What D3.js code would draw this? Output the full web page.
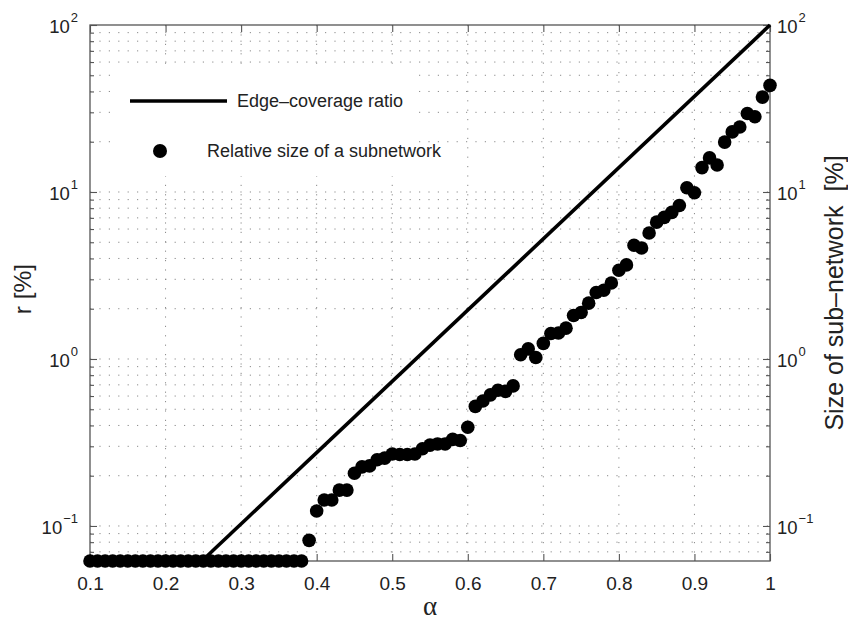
<!DOCTYPE html>
<html>
<head>
<meta charset="utf-8">
<script src="https://cdn.jsdelivr.net/npm/d3@7/dist/d3.min.js"></script>
<style>
  html, body { margin: 0; padding: 0; background: #fff; }
  svg { display: block; font-family: "Liberation Sans", Arial, Helvetica, sans-serif; }
</style>
</head>
<body>
<svg id="chart" width="848" height="623"></svg>
<script>
// alpha values (x) and relative sub-network size in percent
const alpha = [
  0.10, 0.11, 0.12, 0.13, 0.14, 0.15, 0.16, 0.17, 0.18, 0.19,
  0.20, 0.21, 0.22, 0.23, 0.24, 0.25, 0.26, 0.27, 0.28, 0.29,
  0.30, 0.31, 0.32, 0.33, 0.34, 0.35, 0.36, 0.37, 0.38, 0.39,
  0.40, 0.41, 0.42, 0.43, 0.44, 0.45, 0.46, 0.47, 0.48, 0.49,
  0.50, 0.51, 0.52, 0.53, 0.54, 0.55, 0.56, 0.57, 0.58, 0.59,
  0.60, 0.61, 0.62, 0.63, 0.64, 0.65, 0.66, 0.67, 0.68, 0.69,
  0.70, 0.71, 0.72, 0.73, 0.74, 0.75, 0.76, 0.77, 0.78, 0.79,
  0.80, 0.81, 0.82, 0.83, 0.84, 0.85, 0.86, 0.87, 0.88, 0.89,
  0.90, 0.91, 0.92, 0.93, 0.94, 0.95, 0.96, 0.97, 0.98, 0.99,
  1.00
];
const subnetSize = [
  0.0617, 0.0617, 0.0617, 0.0617, 0.0617, 0.0617, 0.0617, 0.0617, 0.0617, 0.0617,
  0.0617, 0.0617, 0.0617, 0.0617, 0.0617, 0.0617, 0.0617, 0.0617, 0.0617, 0.0617,
  0.0617, 0.0617, 0.0617, 0.0617, 0.0617, 0.0617, 0.0617, 0.0617, 0.0617, 0.082,
  0.123, 0.143, 0.143, 0.164, 0.164, 0.207, 0.226, 0.229, 0.249, 0.255,
  0.270, 0.268, 0.268, 0.270, 0.290, 0.305, 0.310, 0.310, 0.330, 0.325,
  0.39, 0.52, 0.56, 0.61, 0.65, 0.64, 0.69, 1.06, 1.15, 1.02,
  1.24, 1.42, 1.43, 1.53, 1.82, 1.90, 2.16, 2.50, 2.58, 2.85,
  3.40, 3.66, 4.80, 4.62, 5.68, 6.6, 7.05, 7.55, 8.3, 10.6,
  9.9, 14.0, 16.0, 14.5, 19.9, 22.9, 24.5, 29.5, 28.2, 37.0,
  43.5
];
// edge-coverage ratio (straight line on the log scale)
const edgeAlpha = [0.248, 1.0];
const edgeRatio = [0.0617, 100];

const xTicks = [0.1, 0.2, 0.3, 0.4, 0.5, 0.6, 0.7, 0.8, 0.9, 1];
const xTickLabels = ["0.1", "0.2", "0.3", "0.4", "0.5", "0.6", "0.7", "0.8", "0.9", "1"];
const yDecades = [0.1, 1, 10, 100];
const yExponents = ["\u22121", "0", "1", "2"];
const yMinor = [0.07, 0.08, 0.09,
  0.2, 0.3, 0.4, 0.5, 0.6, 0.7, 0.8, 0.9,
  2, 3, 4, 5, 6, 7, 8, 9,
  20, 30, 40, 50, 60, 70, 80, 90];

const legendLabels = ["Edge\u2013coverage ratio", "Relative size of a subnetwork"];
const xLabel = "\u03b1";
const yLabelLeft = "r [%]";
const yLabelRight = "Size of sub\u2013network  [%]";

const margin = { left: 90, top: 25, right: 78, bottom: 62 };
const W = 848, H = 623;
const pw = W - margin.left - margin.right;   // 680
const ph = H - margin.top - margin.bottom;   // 536

const svg = d3.select("#chart");
const g = svg.append("g").attr("transform", `translate(${margin.left},${margin.top})`);

const x = d3.scaleLinear().domain([0.1, 1]).range([0, pw]);
const y = d3.scaleLog().domain([0.0617, 100]).range([ph, 0]);

const axisColor = "#555";
const gridColor = "#8a8a8a";

// dotted grid
const grid = g.append("g").attr("class", "grid");
grid.selectAll("line.hx")
  .data(yDecades.concat(yMinor).filter(v => v < 100))
  .join("line")
  .attr("x1", 0).attr("x2", pw)
  .attr("y1", d => y(d)).attr("y2", d => y(d))
  .attr("stroke", gridColor).attr("stroke-width", 1)
  .attr("stroke-dasharray", "1.2,8.2");
grid.selectAll("line.vx")
  .data(xTicks.filter(v => v > 0.1 && v < 1))
  .join("line")
  .attr("x1", d => x(d)).attr("x2", d => x(d))
  .attr("y1", 0).attr("y2", ph)
  .attr("stroke", gridColor).attr("stroke-width", 1)
  .attr("stroke-dasharray", "1.2,8.2");

// legend background hides the grid underneath
g.append("rect")
  .attr("x", 112 - margin.left).attr("y", 68 - margin.top)
  .attr("width", 306).attr("height", 108)
  .attr("fill", "#fff");

// axes (ticks point inward)
function styleAxis(sel) {
  sel.select(".domain").remove();
  sel.selectAll(".tick line").attr("stroke", axisColor).attr("stroke-width", 1.1);
}
const bottomAxis = g.append("g").attr("transform", `translate(0,${ph})`)
  .call(d3.axisBottom(x).tickValues(xTicks).tickSizeInner(-7).tickSizeOuter(0)
    .tickFormat((d, i) => xTickLabels[i]));
styleAxis(bottomAxis);
bottomAxis.selectAll(".tick text")
  .attr("y", 23).attr("dy", "0.3em")
  .attr("fill", "#222").attr("font-size", 19)
  .attr("font-family", "Liberation Sans, Arial, sans-serif");

const topAxis = g.append("g")
  .call(d3.axisTop(x).tickValues(xTicks).tickSizeInner(-7).tickSizeOuter(0).tickFormat(""));
styleAxis(topAxis);

const leftAxis = g.append("g")
  .call(d3.axisLeft(y).tickValues(yDecades).tickSizeInner(-7).tickSizeOuter(0).tickFormat(""));
styleAxis(leftAxis);
const leftMinor = g.append("g")
  .call(d3.axisLeft(y).tickValues(yMinor).tickSizeInner(-4).tickSizeOuter(0).tickFormat(""));
styleAxis(leftMinor);

const rightAxis = g.append("g").attr("transform", `translate(${pw},0)`)
  .call(d3.axisRight(y).tickValues(yDecades).tickSizeInner(-7).tickSizeOuter(0).tickFormat(""));
styleAxis(rightAxis);
const rightMinor = g.append("g").attr("transform", `translate(${pw},0)`)
  .call(d3.axisRight(y).tickValues(yMinor).tickSizeInner(-4).tickSizeOuter(0).tickFormat(""));
styleAxis(rightMinor);

// box around the plot
g.append("rect")
  .attr("x", 0).attr("y", 0).attr("width", pw).attr("height", ph)
  .attr("fill", "none").attr("stroke", axisColor).attr("stroke-width", 1.3);

// power-of-ten tick labels on both sides
function powerLabel(parent, xPos, anchor) {
  const t = parent.selectAll("text.pow")
    .data(yDecades)
    .join("text")
    .attr("class", "pow")
    .attr("x", xPos)
    .attr("y", d => y(d) + 8)
    .attr("text-anchor", anchor)
    .attr("fill", "#222")
    .attr("font-size", 18.5);
  t.append("tspan").text("10");
  t.append("tspan")
    .attr("font-size", 13)
    .attr("dy", -11)
    .attr("dx", 1)
    .text((d, i) => yExponents[i]);
}
powerLabel(g.append("g"), -12, "end");
powerLabel(g.append("g"), pw + 7, "start");

// edge-coverage line
const line = d3.line().x(d => x(d[0])).y(d => y(d[1]));
g.append("path")
  .datum(edgeAlpha.map((a, i) => [a, edgeRatio[i]]))
  .attr("d", line)
  .attr("fill", "none")
  .attr("stroke", "#000")
  .attr("stroke-width", 3.6);

// sub-network size markers
g.append("g").selectAll("circle")
  .data(alpha.map((a, i) => [a, subnetSize[i]]))
  .join("circle")
  .attr("cx", d => x(d[0]))
  .attr("cy", d => y(d[1]))
  .attr("r", 6.8)
  .attr("fill", "#000");

// legend
const leg = svg.append("g");
leg.append("line")
  .attr("x1", 130).attr("x2", 227).attr("y1", 101).attr("y2", 101)
  .attr("stroke", "#000").attr("stroke-width", 3.6);
leg.append("text")
  .attr("x", 237).attr("y", 101).attr("dy", "0.35em")
  .attr("font-size", 18).attr("fill", "#222")
  .text(legendLabels[0]);
leg.append("circle")
  .attr("cx", 160).attr("cy", 151).attr("r", 7).attr("fill", "#000");
leg.append("text")
  .attr("x", 207).attr("y", 151).attr("dy", "0.35em")
  .attr("font-size", 18).attr("fill", "#222")
  .text(legendLabels[1]);

// axis titles
svg.append("text")
  .attr("x", margin.left + x(0.55)).attr("y", 615)
  .attr("text-anchor", "middle")
  .attr("font-family", "Liberation Serif, Times New Roman, serif")
  .attr("font-size", 27).attr("fill", "#222")
  .text(xLabel);
svg.append("text")
  .attr("transform", `translate(31,289) rotate(-90)`)
  .attr("text-anchor", "middle")
  .attr("font-size", 24.5).attr("fill", "#222")
  .text(yLabelLeft);
svg.append("text")
  .attr("transform", `translate(843,293) rotate(-90)`)
  .attr("text-anchor", "middle")
  .attr("font-size", 25).attr("fill", "#222")
  .style("white-space", "pre")
  .text(yLabelRight);
</script>
</body>
</html>
